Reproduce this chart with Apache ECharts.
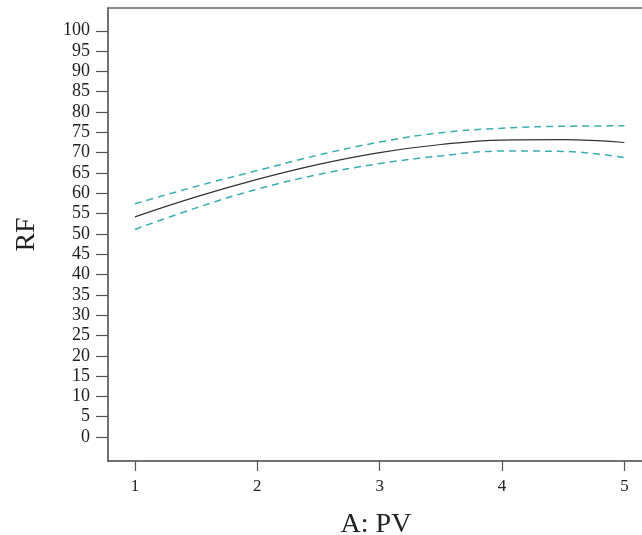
<!DOCTYPE html>
<html><head><meta charset="utf-8">
<script src="https://cdn.jsdelivr.net/npm/echarts@6/dist/echarts.min.js"></script>
<style>html,body{margin:0;padding:0;background:#fff}#c{width:642px;height:535px}</style>
</head><body><div id="c"></div>
<script>
const xValues = [1, 1.5, 2, 2.5, 3, 3.5, 4, 4.5, 5];
const predicted = [54.2, 59.1, 63.4, 67.1, 70.0, 72.0, 73.1, 73.2, 72.5];
const upperCI = [57.4, 61.7, 65.6, 69.4, 72.6, 74.9, 76.0, 76.5, 76.6];
const lowerCI = [51.1, 56.4, 61.0, 64.6, 67.3, 69.2, 70.4, 70.3, 68.8];
const yTicks = [0,5,10,15,20,25,30,35,40,45,50,55,60,65,70,75,80,85,90,95,100];
const xTicks = [1,2,3,4,5];

const pair = (ys) => xValues.map((x, i) => [x, ys[i]]);
const font = '"Liberation Serif", "DejaVu Serif", serif';
const chart = echarts.init(document.getElementById('c'), null, {renderer: 'canvas'});
chart.setOption({
  animation: false,
  grid: {left: 108, top: 8, right: -2, bottom: 74, containLabel: false, outerBoundsMode: 'none'},
  xAxis: [{
    type: 'value', min: 0.78, max: 5.16,
    name: 'A: PV', nameLocation: 'middle', nameGap: 50,
    nameTextStyle: {fontFamily: font, fontSize: 28, color: '#222'},
    axisLine: {show: true, onZero: false, lineStyle: {color: '#444', width: 1.5}},
    axisTick: {show: true, length: 10, customValues: xTicks, lineStyle: {color: '#555', width: 1.2}},
    axisLabel: {customValues: xTicks, fontFamily: font, fontSize: 17, color: '#222', margin: 17},
    splitLine: {show: false}
  }, {
    type: 'value', position: 'top', min: 0.78, max: 5.16,
    axisLine: {show: true, onZero: false, lineStyle: {color: '#666', width: 1.5}},
    axisTick: {show: false}, axisLabel: {show: false}, splitLine: {show: false}
  }],
  yAxis: {
    type: 'value', min: -5.9, max: 105.6,
    name: 'RF', nameLocation: 'middle', nameGap: 67, nameRotate: 90,
    nameTextStyle: {fontFamily: font, fontSize: 28, color: '#222'},
    axisLine: {show: true, onZero: false, lineStyle: {color: '#444', width: 1.5}},
    axisTick: {show: true, length: 12, customValues: yTicks, lineStyle: {color: '#555', width: 1.2}},
    axisLabel: {customValues: yTicks, fontFamily: font, fontSize: 18, color: '#222', margin: 18},
    splitLine: {show: false}
  },
  series: [
    {type: 'line', data: pair(predicted), smooth: 0.4, symbol: 'none',
     lineStyle: {color: '#333', width: 1.2}},
    {type: 'line', data: pair(upperCI), smooth: 0.4, symbol: 'none',
     lineStyle: {color: '#3aaeae', width: 1.5, type: [7, 5]}},
    {type: 'line', data: pair(lowerCI), smooth: 0.4, symbol: 'none',
     lineStyle: {color: '#3aaeae', width: 1.5, type: [7, 5]}}
  ]
});
</script></body></html>
